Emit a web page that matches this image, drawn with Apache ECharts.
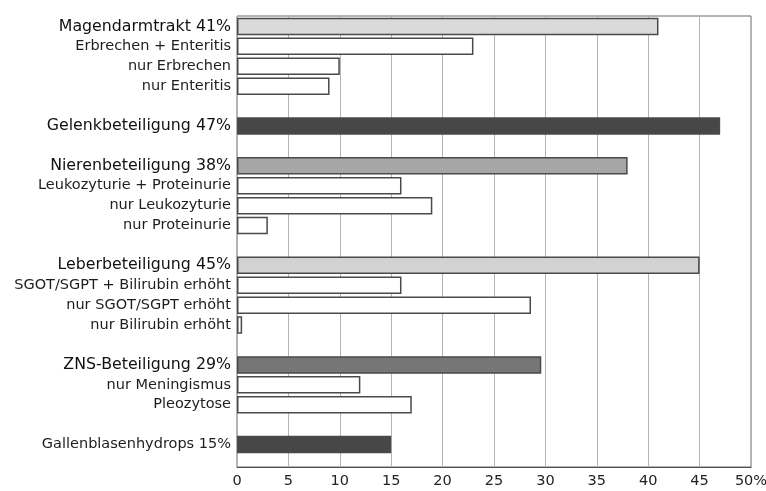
<!DOCTYPE html>
<html>
<head>
<meta charset="utf-8">
<script src="https://cdn.jsdelivr.net/npm/echarts@6/dist/echarts.min.js"></script>
<style>
html,body{margin:0;padding:0;background:#fff;}
#chart{width:766px;height:491px;}
</style>
</head>
<body>
<div id="chart"></div>
<script>
// Categories (top to bottom); '' marks an empty spacer row
const categories = [
  'Magendarmtrakt 41%', 'Erbrechen + Enteritis', 'nur Erbrechen', 'nur Enteritis', '',
  'Gelenkbeteiligung 47%', '',
  'Nierenbeteiligung 38%', 'Leukozyturie + Proteinurie', 'nur Leukozyturie', 'nur Proteinurie', '',
  'Leberbeteiligung 45%', 'SGOT/SGPT + Bilirubin erhöht', 'nur SGOT/SGPT erhöht', 'nur Bilirubin erhöht', '',
  'ZNS-Beteiligung 29%', 'nur Meningismus', 'Pleozytose', '',
  'Gallenblasenhydrops 15%'
];
// Percent values
const values = [
  41, 23, 10, 9, null,
  47, null,
  38, 16, 19, 3, null,
  45, 16, 28.6, 0.5, null,
  29.6, 12, 17, null,
  15
];
// Row kind: 'main' organ group, 'sub' sub-finding, 'minor' main group with small label
const kinds = [
  'main', 'sub', 'sub', 'sub', 'gap',
  'main', 'gap',
  'main', 'sub', 'sub', 'sub', 'gap',
  'main', 'sub', 'sub', 'sub', 'gap',
  'main', 'sub', 'sub', 'gap',
  'minor'
];
// x axis ticks
const xTicks = [0, 5, 10, 15, 20, 25, 30, 35, 40, 45, 50];

// ---- styling ----
const groupFill = {
  'Magendarmtrakt 41%': '#dadada',
  'Gelenkbeteiligung 47%': '#474747',
  'Nierenbeteiligung 38%': '#a6a6a6',
  'Leberbeteiligung 45%': '#d2d2d2',
  'ZNS-Beteiligung 29%': '#767676',
  'Gallenblasenhydrops 15%': '#474747'
};
const barData = values.map((v, i) => ({
  value: v,
  itemStyle: {
    color: groupFill[categories[i]] || '#ffffff',
    borderColor: '#4a4a4a',
    borderWidth: 1.5
  }
}));

const chart = echarts.init(document.getElementById('chart'));
const FONT = 'DejaVu Sans';
chart.setOption({
  animation: false,
  backgroundColor: '#ffffff',
  grid: [
    { left: 237, right: 15, top: 16.5, height: 438, containLabel: false, outerBoundsMode: 'none', show: false },
    { left: 237, right: 15, top: 16, bottom: 24, containLabel: false, outerBoundsMode: 'none', show: true,
      borderColor: '#6a6a6a', borderWidth: 1, backgroundColor: 'transparent', z: 0 }
  ],
  xAxis: [
    { gridIndex: 0, type: 'value', min: xTicks[0], max: xTicks[xTicks.length - 1], show: false },
    { gridIndex: 1, type: 'value', min: xTicks[0], max: xTicks[xTicks.length - 1], interval: 5,
      axisLine: { show: true, lineStyle: { color: '#505050', width: 1.2 } },
      axisTick: { show: false },
      splitLine: { show: true, lineStyle: { color: '#b4b4b4', width: 1 } },
      axisLabel: {
        color: '#222', fontFamily: FONT, fontSize: 14.5, margin: 7,
        formatter: v => (v === 50 ? v + '%' : String(v))
      }
    }
  ],
  yAxis: [
    { gridIndex: 0, type: 'category', inverse: true, data: categories,
      axisLine: { show: false }, axisTick: { show: false }, splitLine: { show: false },
      axisLabel: {
        margin: 6, interval: 0, fontFamily: FONT, color: '#1a1a1a',
        formatter: (v, i) => {
          const k = kinds[i];
          if (k === 'main') return '{m|' + v + '}';
          return '{s|' + v + '}';
        },
        rich: {
          m: { fontSize: 15.8, fontFamily: FONT, color: '#111' },
          s: { fontSize: 14.5, fontFamily: FONT, color: '#1e1e1e' }
        }
      }
    },
    { gridIndex: 1, type: 'value', show: false }
  ],
  series: [
    { type: 'bar', xAxisIndex: 0, yAxisIndex: 0, data: barData, barWidth: 17.5, z: 3 }
  ]
});
</script>
</body>
</html>
